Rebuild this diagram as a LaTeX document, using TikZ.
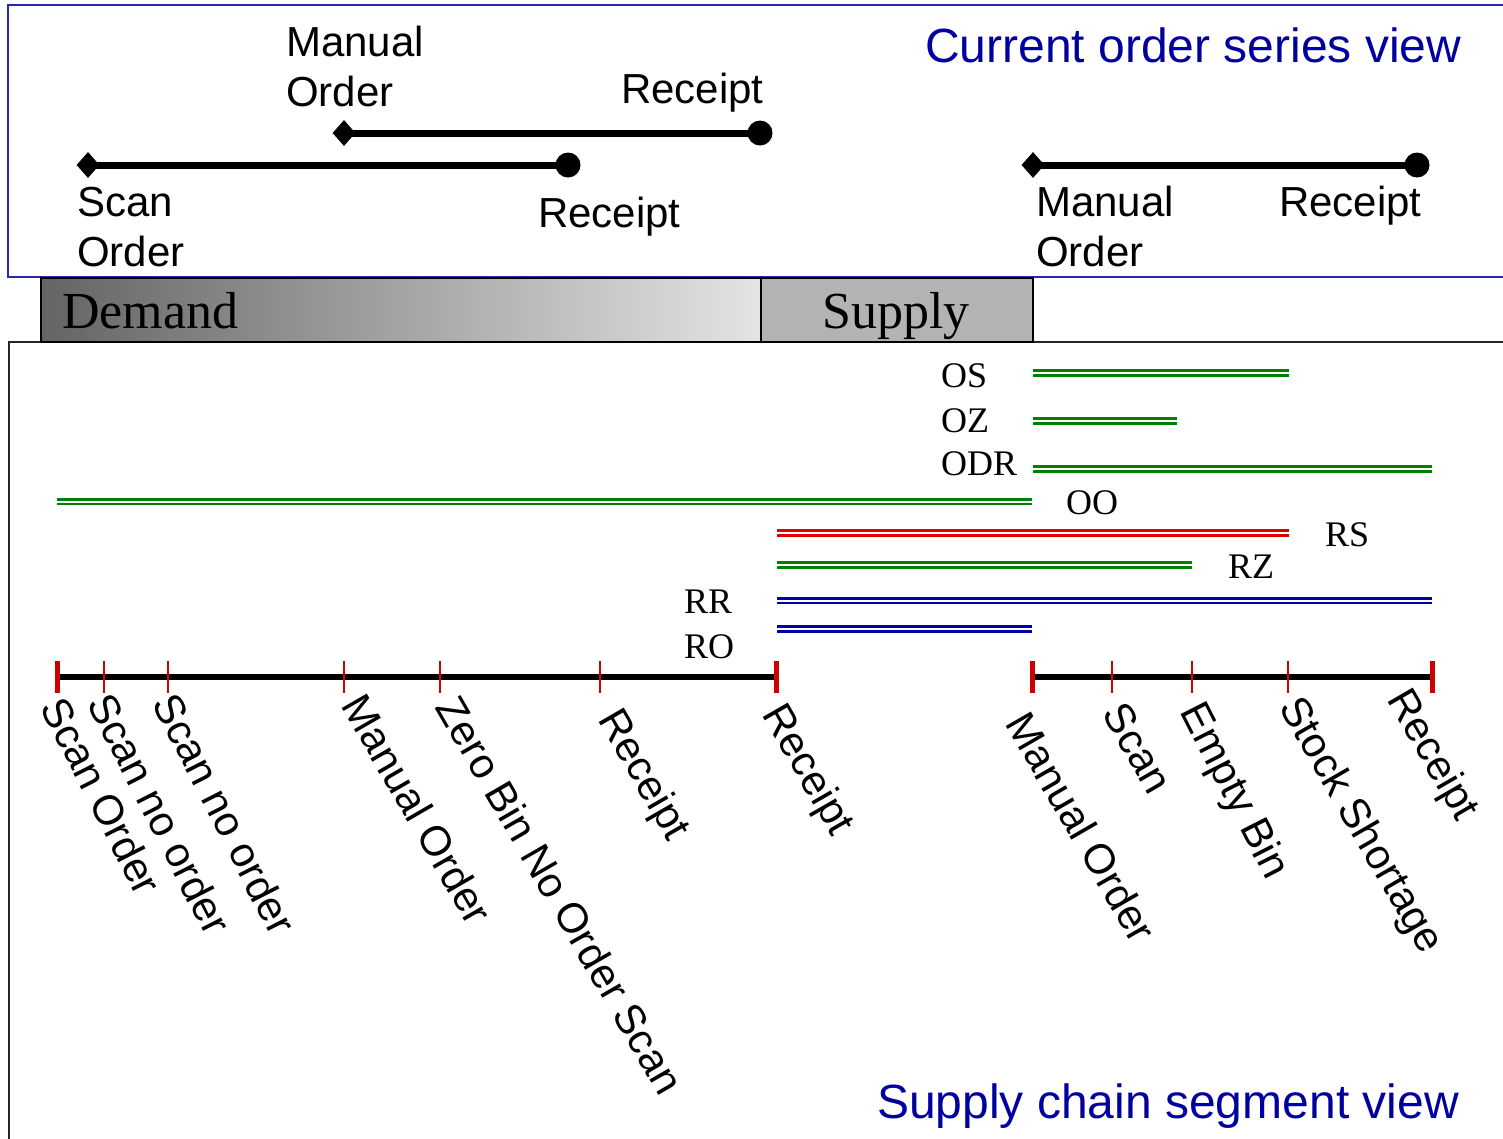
\documentclass[tikz,border=0pt]{standalone}
\usepackage{fontspec}
\setmainfont{Liberation Serif}
\newfontfamily\arialf{Liberation Sans}
\usetikzlibrary{shapes.geometric}
\definecolor{tblue}{RGB}{0,0,160}
\definecolor{frameblue}{RGB}{40,40,170}
\definecolor{tgreen}{RGB}{0,128,0}
\definecolor{tred}{RGB}{220,0,0}
\definecolor{lblue}{RGB}{0,0,160}
\definecolor{tickred}{RGB}{204,0,0}
\definecolor{demandL}{RGB}{100,100,100}
\definecolor{demandR}{RGB}{228,228,228}
\definecolor{supplyfill}{RGB}{179,179,179}
\begin{document}
\begin{tikzpicture}[x=1pt,y=-1pt,
  toplbl/.style={font=\arialf\fontsize{42}{50}\selectfont, inner sep=0, anchor=north west, align=left},
  rotlbl/.style={font=\arialf\fontsize{42}{50}\selectfont, inner sep=0, anchor=north west, rotate=-60},
  steeplbl/.style={font=\arialf\fontsize{42}{50}\selectfont, inner sep=0, anchor=north west, rotate=-63},
  serlbl/.style={font=\fontsize{36}{40}\selectfont, inner sep=0, anchor=base west},
  barlbl/.style={font=\fontsize{52}{56}\selectfont, inner sep=0, anchor=base west},
  titlelbl/.style={font=\arialf\fontsize{48}{56}\selectfont, text=tblue, inner sep=0, anchor=base west},
  startmark/.style={diamond, fill=black, minimum width=23pt, minimum height=26pt, inner sep=0},
  endmark/.style={circle, fill=black, minimum size=25pt, inner sep=0},
  seriesline/.style={line width=7pt},
  dbl/.style={line width=2.6pt, double=white, double distance=2pt},
  axisline/.style={line width=5.5pt},
  bigtick/.style={tickred, line width=5pt},
  smalltick/.style={tickred, line width=2pt}]
\useasboundingbox (0,0) rectangle (1503,1138);
\fill[white] (0,0) rectangle (1503,1138);

% frames
\draw[frameblue, line width=1.6pt] (8,5) rectangle (1540,277);
\draw[black!85, line width=2pt] (9,342) rectangle (1540,1170);

% demand / supply bars
\node[draw=black, line width=2pt, left color=demandL, right color=demandR, minimum width=720pt, minimum height=64pt, inner sep=0, anchor=north west] (demandbar) at (40,277) {};
\node[draw=black, line width=2pt, fill=supplyfill, minimum width=272pt, minimum height=64pt, inner sep=0, anchor=north west] (supplybar) at (760,277) {};
\node[barlbl] (demandtxt) at (62,328) {Demand};
\node[barlbl] (supplytxt) at (822,328) {Supply};

% titles
\node[titlelbl] (t1) at (925,62) {Current order series view};
\node[titlelbl] (t2) at (877,1118) {Supply chain segment view};

% current order series
\node[startmark] (s1) at (88,165) {};
\node[endmark] (e1) at (568,165) {};
\draw[seriesline] (s1.center) -- (e1.center);
\node[startmark] (s2) at (344,133) {};
\node[endmark] (e2) at (760,133) {};
\draw[seriesline] (s2.center) -- (e2.center);
\node[startmark] (s3) at (1033,165) {};
\node[endmark] (e3) at (1417,165) {};
\draw[seriesline] (s3.center) -- (e3.center);

\node[toplbl] (l1) at (77,187) {Scan\\Order};
\node[toplbl] (l2) at (538,197) {Receipt};
\node[toplbl] (l3) at (286,26) {Manual\\Order};
\node[toplbl] (l4) at (621,73) {Receipt};
\node[toplbl] (l5) at (1036,186) {Manual\\Order};
\node[toplbl] (l6) at (1279,186) {Receipt};

% segment lines
\draw[dbl, tgreen] (1033,373) -- (1289,373);
\draw[dbl, tgreen] (1033,421) -- (1177,421);
\draw[dbl, tgreen] (1033,469) -- (1432,469);
\draw[dbl, tgreen] (57,501.5) -- (1032,501.5);
\draw[dbl, tred] (777,533) -- (1289,533);
\draw[dbl, tgreen] (777,565) -- (1192,565);
\draw[dbl, lblue] (777,600.5) -- (1432,600.5);
\draw[dbl, lblue] (777,629) -- (1032,629);

\node[serlbl] (os) at (941,387) {OS};
\node[serlbl] (oz) at (941,432) {OZ};
\node[serlbl] (odr) at (941,475) {ODR};
\node[serlbl] (oo) at (1066,514) {OO};
\node[serlbl] (rs) at (1325,546) {RS};
\node[serlbl] (rz) at (1228,578) {RZ};
\node[serlbl] (rr) at (684,613) {RR};
\node[serlbl] (ro) at (684,658) {RO};

% axes
\coordinate (a0) at (57,677);
\coordinate (a1) at (776,677);
\coordinate (b0) at (1032,677);
\coordinate (b1) at (1432,677);
\draw[axisline] (a0) -- (a1);
\draw[axisline] (b0) -- (b1);
\foreach \x in {57,776,1032,1432} \draw[bigtick] (\x,661) -- (\x,693);
\foreach \x in {104,168,344,440,600,1112,1192,1288} \draw[smalltick] (\x,661) -- (\x,693);

% rotated labels
\node[steeplbl] (r1) at (67,693) {Scan Order};
\node[steeplbl] (r2) at (114,689) {Scan no order};
\node[steeplbl] (r3) at (179,689) {Scan no order};
\node[rotlbl] (r4) at (367,690) {Manual Order};
\node[rotlbl] (r5) at (461,692) {Zero Bin No Order Scan};
\node[rotlbl] (r6) at (624,704) {Receipt};
\node[rotlbl] (r7) at (788,699) {Receipt};
\node[rotlbl] (r8) at (1031,708) {Manual Order};
\node[rotlbl] (r9) at (1127,699) {Scan};
\node[steeplbl] (r10) at (1207,697) {Empty Bin};
\node[rotlbl] (r11) at (1305,692) {Stock Shortage};
\node[rotlbl] (r12) at (1413,684) {Receipt};
\end{tikzpicture}
\end{document}
